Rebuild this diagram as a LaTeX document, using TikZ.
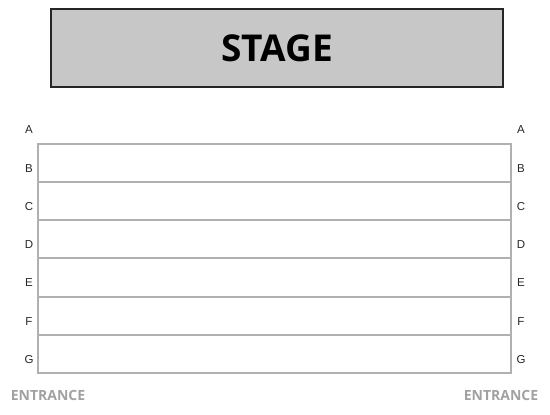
\documentclass[tikz,border=0pt]{standalone}
\usepackage{fontspec}
\setmainfont{Liberation Sans}
\newfontfamily\opensansbold{Open Sans Bold}
\begin{document}
\begin{tikzpicture}[x=1pt,y=-1pt,
  rowline/.style={draw=black!31, line width=2pt},
  rowlab/.style={font=\fontsize{11.5}{13}\selectfont, text=black!85},
  entr/.style={font=\opensansbold\fontsize{14}{16}\selectfont, text=black!37},
  stagebox/.style={draw=black!85, line width=1.5pt, fill=black!22}]
\useasboundingbox (0,0) rectangle (550,415);
\node[stagebox, minimum width=452pt, minimum height=78pt, inner sep=0pt, font=\opensansbold\fontsize{37}{40}\selectfont] (stage) at (277,48) {STAGE};
\draw[rowline] (38,144) rectangle (511,373);
\foreach \y in {182,220,258,297,335}{ \draw[rowline] (38,\y) -- (511,\y); }
\foreach \l/\y in {A/130,B/169,C/207,D/245,E/283,F/322,G/360}{
  \node[rowlab] (L\l) at (29,\y) {\l};
  \node[rowlab] (R\l) at (521,\y) {\l};
}
\node[entr] (entL) at (48,395) {ENTRANCE};
\node[entr] (entR) at (501,395) {ENTRANCE};
\end{tikzpicture}
\end{document}
